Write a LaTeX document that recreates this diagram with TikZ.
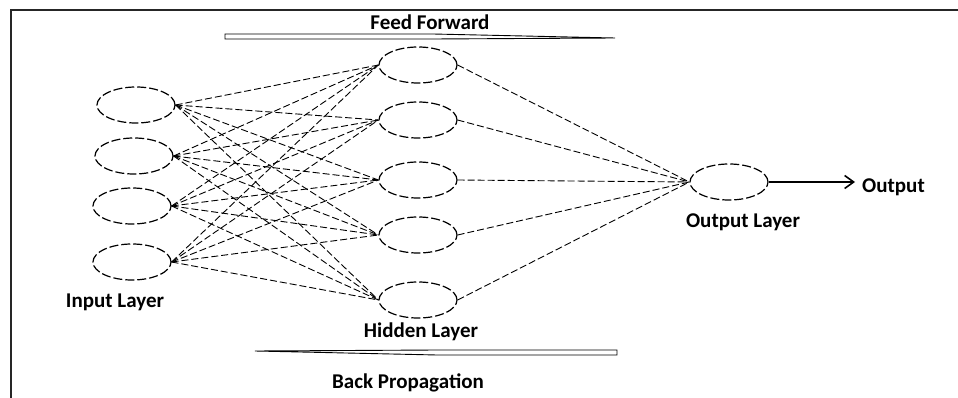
\documentclass[tikz,border=0pt]{standalone}
\usepackage{fontspec}
\setmainfont{Carlito}
\usetikzlibrary{arrows.meta,calc,positioning,shapes.geometric}
\definecolor{framegray}{rgb}{0.15, 0.15, 0.15}
\tikzset{
  neuron/.style={
    ellipse,
    draw=black,
    line width=1.2pt,
    dash pattern=on 9pt off 3pt,
    minimum width=78pt,
    minimum height=36pt,
    inner sep=0pt
  },
  layername/.style={
    font=\fontsize{21}{24}\selectfont\bfseries,
    inner sep=0pt,
    anchor=base
  },
  link/.style={
    draw=black,
    line width=0.9pt,
    dash pattern=on 7pt off 3pt
  },
  flow/.style={
    draw=black,
    line width=0.9pt,
    fill=white
  },
  outarrow/.style={
    -{Straight Barb[length=9pt,width=13pt]},
    line width=1.6pt,
    shorten >=7pt
  }
}

\begin{document}
\begin{tikzpicture}[x=1pt,y=-1pt]
\useasboundingbox (0,0) rectangle (958,398);
\draw[framegray, line width=1.4pt] (958,10) -- (11,10) -- (11,398);

% input layer
\node[neuron] (in1) at (136,105) {};
\node[neuron] (in2) at (134,156) {};
\node[neuron] (in3) at (132,206) {};
\node[neuron] (in4) at (132,262) {};
\node[layername] (inname) at (115,307) {Input Layer};

% hidden layer
\node[neuron] (hid1) at (418,65) {};
\node[neuron] (hid2) at (418,120) {};
\node[neuron] (hid3) at (418,180) {};
\node[neuron] (hid4) at (418,235) {};
\node[neuron] (hid5) at (418,300) {};
\node[layername] (hidname) at (421,337) {Hidden Layer};

% output layer
\node[neuron] (out) at (729,182) {};
\node[layername] (outname) at (743,227) {Output Layer};
\node[layername, anchor=base west] (result) at (862,193) {Output};

\foreach \i in {1,...,4}
  \foreach \j in {1,...,5}
    \draw[link] (in\i.east) -- (hid\j.west);
\foreach \j in {1,...,5}
  \draw[link] (hid\j.east) -- (out.west);
\draw[outarrow] (out.east) -- (result.west |- out.east);

% feed forward / back propagation
\node[layername] (ffname) at (430,30) {Feed Forward};
\coordinate (fftail) at (225,36.5);
\coordinate (fftip) at (615,38);
\draw[flow] (fftail) ++(0,-2.5) -- ++(208,0) -- (fftip)
  -- ($(fftail)+(208,2.5)$) -- ($(fftail)+(0,2.5)$) -- cycle;

\node[layername] (bpname) at (408,388) {Back Propagation};
\coordinate (bptail) at (617,352.5);
\coordinate (bptip) at (255,351);
\draw[flow] (bptail) ++(0,-2.5) -- ++(-180,0) -- (bptip)
  -- ($(bptail)+(-180,2.5)$) -- ($(bptail)+(0,2.5)$) -- cycle;
\end{tikzpicture}
\end{document}
